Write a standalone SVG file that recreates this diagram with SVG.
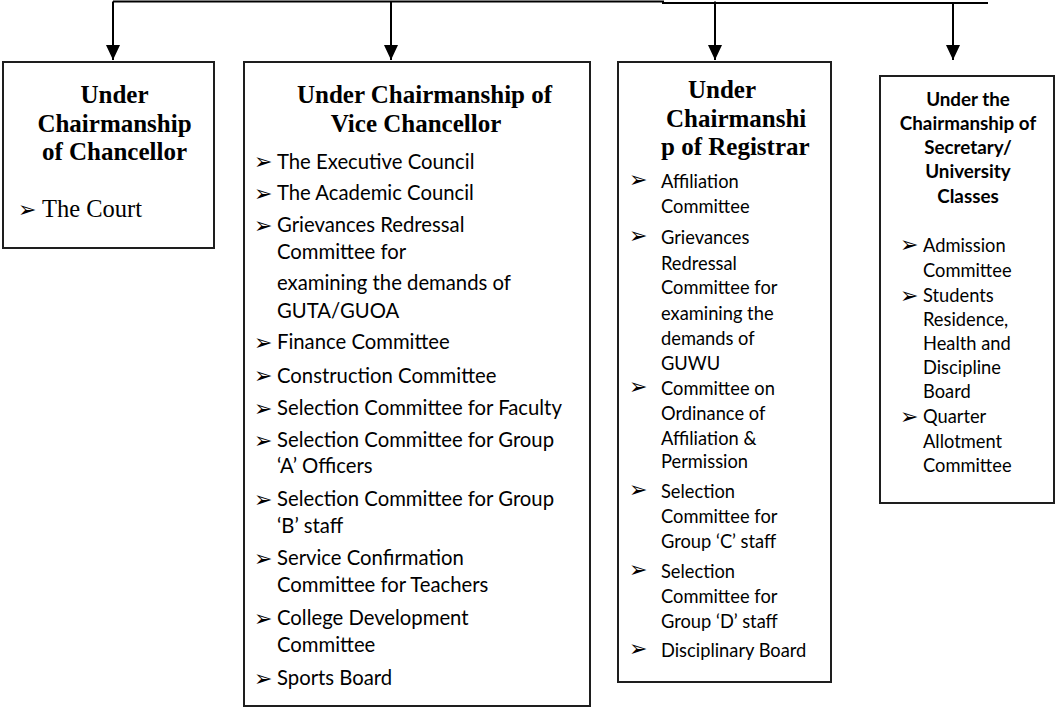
<svg xmlns="http://www.w3.org/2000/svg" width="1055" height="708" viewBox="0 0 1055 708">
<style>
.box{fill:#fff;stroke:#1e1e1e;stroke-width:2}
.ttl{font-family:"Liberation Serif","Times New Roman",serif;font-weight:bold;font-size:25px;fill:#000}
.ser{font-family:"Liberation Serif","Times New Roman",serif;font-size:24.5px;fill:#000}
.it2{font-family:Lato,"Liberation Sans",sans-serif;font-size:20.3px;fill:#000}
.it3{font-family:Lato,"Liberation Sans",sans-serif;font-size:18.3px;fill:#000}
.t4{font-family:Lato,"Liberation Sans",sans-serif;font-size:18.8px;font-weight:bold;fill:#000}
.bul{font-family:"DejaVu Sans",sans-serif;font-size:22px;fill:#000}
.con{fill:none;stroke:#000;stroke-width:2}
</style>
<defs>
<marker id="ah" viewBox="0 0 15 14" refX="15" refY="7" markerWidth="15" markerHeight="14" markerUnits="userSpaceOnUse" orient="auto">
<path d="M0,0 L15,7 L0,14 z" fill="#000"/>
</marker>
</defs>
<g id="connectors">
<path class="con" d="M113,1.5 H663 V3 H988"/>
<line class="con" x1="113" y1="1.5" x2="113" y2="60" marker-end="url(#ah)"/>
<line class="con" x1="391" y1="1.5" x2="391" y2="60" marker-end="url(#ah)"/>
<line class="con" x1="715" y1="1.5" x2="715" y2="60" marker-end="url(#ah)"/>
<line class="con" x1="953" y1="3" x2="953" y2="60" marker-end="url(#ah)"/>
</g>
<g id="chancellor">
<rect class="box" x="3" y="62" width="211" height="186"/>
<text class="ttl" text-anchor="middle" x="114.5" y="103">Under</text>
<text class="ttl" text-anchor="middle" x="114.5" y="132">Chairmanship</text>
<text class="ttl" text-anchor="middle" x="114.5" y="160">of Chancellor</text>
<text class="bul" x="18" y="217">➢</text>
<text class="ser" x="42" y="217">The Court</text>
</g>
<g id="vice-chancellor">
<rect class="box" x="244" y="62" width="346" height="644"/>
<text class="ttl" text-anchor="middle" x="424.5" y="103">Under Chairmanship of</text>
<text class="ttl" text-anchor="middle" x="416" y="132">Vice Chancellor</text>
<g class="bul">
<text x="254" y="169">➢</text>
<text x="254" y="201">➢</text>
<text x="254" y="233">➢</text>
<text x="254" y="350">➢</text>
<text x="254" y="383">➢</text>
<text x="254" y="416">➢</text>
<text x="254" y="448">➢</text>
<text x="254" y="507">➢</text>
<text x="254" y="566">➢</text>
<text x="254" y="626">➢</text>
<text x="254" y="686">➢</text>
</g>
<g class="it2">
<text x="277" y="169">The Executive Council</text>
<text x="277" y="200">The Academic Council</text>
<text x="277" y="232">Grievances Redressal</text>
<text x="277" y="259">Committee for</text>
<text x="277" y="290">examining the demands of</text>
<text x="277" y="318">GUTA/GUOA</text>
<text x="277" y="349">Finance Committee</text>
<text x="277" y="383">Construction Committee</text>
<text x="277" y="415">Selection Committee for Faculty</text>
<text x="277" y="447">Selection Committee for Group</text>
<text x="277" y="473">‘A’ Officers</text>
<text x="277" y="506">Selection Committee for Group</text>
<text x="277" y="533">‘B’ staff</text>
<text x="277" y="565">Service Confirmation</text>
<text x="277" y="592">Committee for Teachers</text>
<text x="277" y="625">College Development</text>
<text x="277" y="652">Committee</text>
<text x="277" y="685">Sports Board</text>
</g>
</g>
<g id="registrar">
<rect class="box" x="618" y="62" width="213" height="620"/>
<text class="ttl" x="688" y="98">Under</text>
<text class="ttl" x="666" y="127">Chairmanshi</text>
<text class="ttl" x="661" y="155">p of Registrar</text>
<g class="bul">
<text x="629" y="187">➢</text>
<text x="629" y="243">➢</text>
<text x="629" y="394">➢</text>
<text x="629" y="497">➢</text>
<text x="629" y="577">➢</text>
<text x="629" y="656">➢</text>
</g>
<g class="it3">
<text x="661" y="188">Affiliation</text>
<text x="661" y="213">Committee</text>
<text x="661" y="244">Grievances</text>
<text x="661" y="270">Redressal</text>
<text x="661" y="294">Committee for</text>
<text x="661" y="320">examining the</text>
<text x="661" y="345">demands of</text>
<text x="661" y="370">GUWU</text>
<text x="661" y="395">Committee on</text>
<text x="661" y="420">Ordinance of</text>
<text x="661" y="445">Affiliation &amp;</text>
<text x="661" y="468">Permission</text>
<text x="661" y="498">Selection</text>
<text x="661" y="523">Committee for</text>
<text x="661" y="548">Group ‘C’ staff</text>
<text x="661" y="578">Selection</text>
<text x="661" y="603">Committee for</text>
<text x="661" y="628">Group ‘D’ staff</text>
<text x="661" y="657">Disciplinary Board</text>
</g>
</g>
<g id="secretary">
<rect class="box" x="880" y="76" width="174" height="427"/>
<g class="t4" text-anchor="middle">
<text x="968" y="106">Under the</text>
<text x="968" y="130">Chairmanship of</text>
<text x="968" y="154">Secretary/</text>
<text x="968" y="178">University</text>
<text x="968" y="203">Classes</text>
</g>
<g class="bul">
<text x="900" y="252">➢</text>
<text x="900" y="303">➢</text>
<text x="900" y="424">➢</text>
</g>
<g class="it3">
<text x="923" y="252">Admission</text>
<text x="923" y="277">Committee</text>
<text x="923" y="302">Students</text>
<text x="923" y="326">Residence,</text>
<text x="923" y="350">Health and</text>
<text x="923" y="374">Discipline</text>
<text x="923" y="398">Board</text>
<text x="923" y="423">Quarter</text>
<text x="923" y="448">Allotment</text>
<text x="923" y="472">Committee</text>
</g>
</g>
</svg>
